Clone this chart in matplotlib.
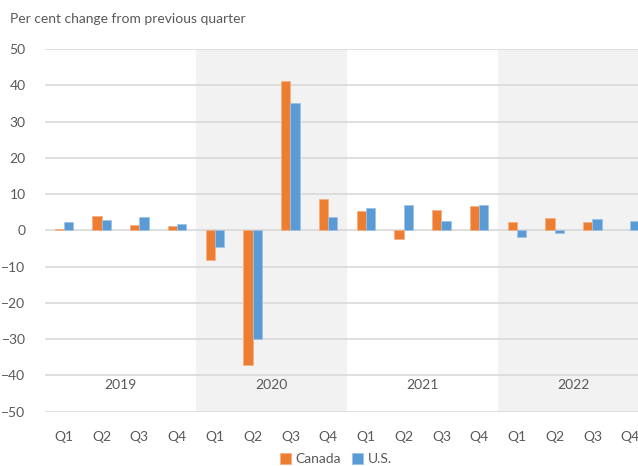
import matplotlib.pyplot as plt
import numpy as np

# quarterly real GDP growth, per cent change from previous quarter
years = ['2019', '2020', '2021', '2022']
quarters = ['Q1', 'Q2', 'Q3', 'Q4']
canada = [0.4, 4.0, 1.5, 1.3,
          -8.3, -37.1, 41.2, 8.6,
          5.3, -2.4, 5.7, 6.7,
          2.3, 3.4, 2.3, np.nan]  # 2022 Q4 not yet published
us = [2.2, 2.8, 3.6, 1.8,
      -4.6, -30.0, 35.2, 3.8,
      6.2, 6.9, 2.6, 6.9,
      -1.7, -0.6, 3.1, 2.6]

orange = '#ED7D31'
blue = '#5B9BD5'
txt = '#595959'

plt.rcParams['font.family'] = ['Lato', 'DejaVu Sans']

fig = plt.figure(figsize=(6.38, 4.66), dpi=100)
# plot area runs a little past the right edge of the figure
ax = fig.add_axes([45 / 638, 1 - 411.7 / 466, 604 / 638, 362.7 / 466])

n = len(canada)
x = np.arange(n)
w = 0.245

# shade every other year
for i in (1, 3):
    ax.axvspan(i * 4 - 0.5, i * 4 + 3.5, color='#F2F2F2', zorder=0, lw=0)

ax.bar(x - w / 2, canada, w, color=orange, edgecolor='#F4B183', lw=0.6, zorder=3, label='Canada')
ax.bar(x + w / 2, us, w, color=blue, edgecolor='#9DC3E6', lw=0.6, zorder=3, label='U.S.')

ax.set_xlim(-0.5, n - 0.5)
ax.set_ylim(-50, 50)
ax.set_yticks(range(-50, 51, 10))
ax.grid(axis='y', color='#D9D9D9', lw=1.2, zorder=1)
ax.set_axisbelow(True)
for s in ax.spines.values():
    s.set_visible(False)

ax.set_xticks(x)
ax.set_xticklabels(quarters * len(years))
ax.tick_params(axis='both', length=0, colors=txt, labelsize=10)
ax.tick_params(axis='x', pad=14)
ax.tick_params(axis='y', pad=14)
for lab in ax.get_yticklabels():
    lab.set_horizontalalignment('right')

for i, yr in enumerate(years):
    ax.text(i * 4 + 1.5, -42.6, yr, ha='center', va='center', color=txt, fontsize=10)

fig.text(10 / 638, 1 - 19 / 466, 'Per cent change from previous quarter',
         color=txt, fontsize=10, va='center', ha='left')

fig.legend(loc='center', bbox_to_anchor=(336 / 638, 1 - 459 / 466), ncol=2, frameon=False,
           fontsize=10, labelcolor=txt, handlelength=0.8, handleheight=0.8,
           handletextpad=0.3, columnspacing=0.8)

fig.savefig('out.png', dpi=100)
